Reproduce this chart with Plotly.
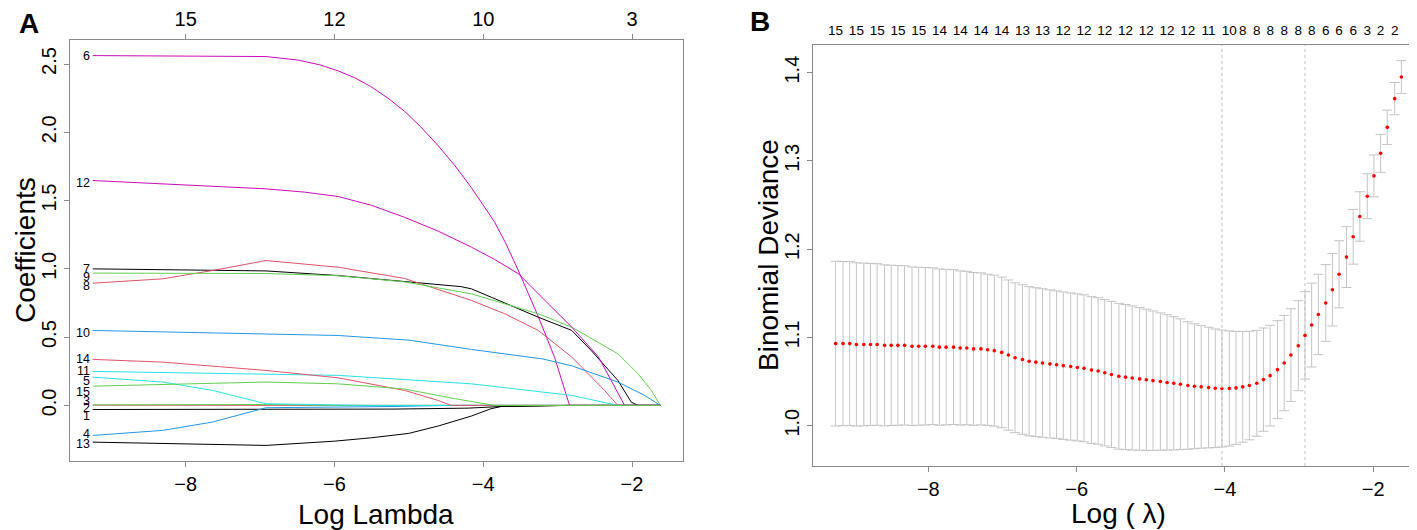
import plotly.graph_objects as go

W, H = 1417, 530
FONT = "Liberation Sans"
NARROW = "Liberation Sans Narrow, Liberation Sans"

# ---- panel B : cross-validation curve ----
log_lambda = [
    -9.25, -9.15, -9.06, -8.97, -8.87, -8.78, -8.69, -8.59, -8.50, -8.41,
    -8.32, -8.22, -8.13, -8.04, -7.94, -7.85, -7.76, -7.66, -7.57, -7.48,
    -7.39, -7.29, -7.20, -7.11, -7.01, -6.92, -6.83, -6.73, -6.64, -6.55,
    -6.46, -6.36, -6.27, -6.18, -6.08, -5.99, -5.90, -5.80, -5.71, -5.62,
    -5.53, -5.43, -5.34, -5.25, -5.15, -5.06, -4.97, -4.87, -4.78, -4.69,
    -4.60, -4.50, -4.41, -4.32, -4.22, -4.13, -4.04, -3.94, -3.85, -3.76,
    -3.67, -3.57, -3.48, -3.39, -3.29, -3.20, -3.11, -3.01, -2.92, -2.83,
    -2.74, -2.64, -2.55, -2.46, -2.36, -2.27, -2.18, -2.08, -1.99, -1.90,
    -1.81, -1.71, -1.62,
]
cv_mean = [
    1.093, 1.093, 1.093, 1.092, 1.092, 1.092, 1.092, 1.091, 1.091, 1.091,
    1.091, 1.090, 1.090, 1.090, 1.090, 1.089, 1.089, 1.089, 1.088, 1.088,
    1.087, 1.087, 1.086, 1.085, 1.083, 1.080, 1.077, 1.075, 1.073, 1.072,
    1.071, 1.070, 1.069, 1.068, 1.067, 1.066, 1.065, 1.063, 1.062, 1.060,
    1.058, 1.056, 1.055, 1.054, 1.053, 1.052, 1.051, 1.050, 1.049, 1.048,
    1.047, 1.0455, 1.0447, 1.044, 1.0432, 1.0424, 1.0421, 1.0421, 1.0428, 1.044,
    1.0455, 1.048, 1.0522, 1.0567, 1.0635, 1.071, 1.080, 1.0906, 1.1023, 1.114,
    1.126, 1.139, 1.154, 1.1715, 1.191, 1.214, 1.237, 1.260, 1.283, 1.3085,
    1.338, 1.3705, 1.395,
]
cv_se = [
    0.0933, 0.0930, 0.0928, 0.0925, 0.0922, 0.0918, 0.0915, 0.0912, 0.0908, 0.0905,
    0.0902, 0.0898, 0.0895, 0.0892, 0.0888, 0.0885, 0.0881, 0.0877, 0.0873, 0.0869,
    0.0865, 0.0861, 0.0857, 0.0855, 0.0853, 0.0851, 0.0849, 0.0847, 0.0845, 0.0843,
    0.0841, 0.0839, 0.0837, 0.0835, 0.0834, 0.0833, 0.0832, 0.0831, 0.0830, 0.0829,
    0.0828, 0.0826, 0.0822, 0.0816, 0.0808, 0.0800, 0.0790, 0.0778, 0.0767, 0.0755,
    0.0740, 0.0722, 0.0708, 0.0695, 0.0683, 0.0672, 0.0662, 0.0652, 0.0640, 0.0628,
    0.0615, 0.0600, 0.0585, 0.0570, 0.0555, 0.0540, 0.0525, 0.0510, 0.0495, 0.0475,
    0.0455, 0.0435, 0.0410, 0.0380, 0.0345, 0.0310, 0.0280, 0.0255, 0.0237, 0.0215,
    0.0195, 0.0183, 0.0186,
]
# number of non-zero coefficients printed along the top (lambda index, count)
top_idx = [0, 3, 6, 9, 12, 15, 18, 21, 24, 27, 30, 33, 36, 39, 42, 45, 48, 51,
           54, 57, 59, 61, 63, 65, 67, 69, 71, 73, 75, 77, 79, 81]
top_nz = [15, 15, 15, 15, 15, 14, 14, 14, 14, 13, 13, 12, 12, 12, 12, 12, 12, 12,
          11, 10, 8, 8, 8, 8, 8, 8, 6, 6, 6, 3, 2, 2]
lambda_min_idx = 56
lambda_1se_idx = 68

# ---- panel A : coefficient paths ----
coef_x_1 = [-9.25, -6.92, -5.20, -4.20, -3.76, -3.30, -2.85, -1.62]
coef_y_1 = [-0.030, -0.029, -0.027, -0.020, -0.008, -0.004, 0.0, 0.0]
coef_x_2 = [-9.25, -6.92, -6.30, -1.62]
coef_y_2 = [0.002, 0.004, 0.0, 0.0]
coef_x_3 = [-9.25, -6.92, -6.00, -1.62]
coef_y_3 = [0.004, 0.007, 0.0, 0.0]
coef_x_4 = [-9.25, -8.31, -7.64, -6.92, -5.20, -4.45, -1.62]
coef_y_4 = [-0.220, -0.183, -0.122, -0.017, -0.008, 0.0, 0.0]
coef_x_5 = [-9.25, -8.31, -7.64, -6.92, -6.00, -5.50, -1.62]
coef_y_5 = [0.207, 0.171, 0.110, 0.012, 0.004, 0.0, 0.0]
coef_x_6 = [-9.25, -6.92, -6.50, -6.20, -5.95, -5.73, -5.51, -5.28, -5.06, -4.84,
            -4.61, -4.38, -4.16, -4.00, -3.85, -3.70, -3.53, -3.26, -3.04, -2.84, -1.62]
coef_y_6 = [2.562, 2.555, 2.530, 2.495, 2.450, 2.400, 2.335, 2.250, 2.155, 2.040,
            1.905, 1.755, 1.595, 1.470, 1.345, 1.190, 0.990, 0.650, 0.350, 0.0, 0.0]
coef_x_7 = [-9.25, -6.92, -5.95, -5.06, -4.30, -4.16, -3.80, -3.26, -2.81, -2.55, -2.19, -2.01, -1.92, -1.62]
coef_y_7 = [1.000, 0.985, 0.951, 0.910, 0.870, 0.854, 0.769, 0.646, 0.549, 0.403, 0.183, 0.024, 0.0, 0.0]
coef_x_8 = [-9.25, -8.31, -7.64, -6.92, -5.95, -5.06, -4.16, -3.71, -3.26, -2.81, -2.37, -2.19, -1.62]
coef_y_8 = [0.895, 0.927, 0.988, 1.061, 1.012, 0.930, 0.769, 0.671, 0.549, 0.354, 0.110, 0.0, 0.0]
coef_x_9 = [-9.25, -6.92, -5.95, -5.06, -4.16, -3.71, -3.26, -2.81, -2.19, -1.92, -1.74, -1.62]
coef_y_9 = [0.969, 0.966, 0.950, 0.905, 0.817, 0.744, 0.671, 0.573, 0.378, 0.232, 0.110, 0.0]
coef_x_10 = [-9.25, -6.92, -5.95, -5.00, -4.16, -3.20, -2.81, -2.19, -1.83, -1.62]
coef_y_10 = [0.549, 0.524, 0.512, 0.478, 0.410, 0.340, 0.290, 0.171, 0.073, 0.0]
coef_x_11 = [-9.25, -6.92, -5.95, -4.16, -2.81, -2.19, -1.62]
coef_y_11 = [0.249, 0.231, 0.220, 0.158, 0.073, 0.0, 0.0]
coef_x_12 = [-9.25, -6.92, -6.40, -5.95, -5.50, -5.06, -4.60, -4.16, -3.85, -3.53,
             -2.81, -2.45, -2.10, -1.62]
coef_y_12 = [1.647, 1.586, 1.562, 1.530, 1.465, 1.378, 1.275, 1.159, 1.070, 0.965,
             0.573, 0.354, 0.0, 0.0]
coef_x_13 = [-9.25, -6.92, -6.00, -5.50, -5.00, -4.60, -4.16, -3.90, -3.76, -3.30, -2.85, -1.62]
coef_y_13 = [-0.269, -0.293, -0.262, -0.237, -0.205, -0.150, -0.078, -0.025, -0.008, -0.004, 0.0, 0.0]
coef_x_14 = [-9.25, -8.31, -6.92, -5.95, -5.06, -4.61, -4.43, -1.62]
coef_y_14 = [0.337, 0.317, 0.256, 0.202, 0.110, 0.037, 0.0, 0.0]
coef_x_15 = [-9.25, -6.92, -5.95, -5.06, -4.38, -3.85, -1.62]
coef_y_15 = [0.141, 0.171, 0.158, 0.120, 0.049, 0.0, 0.0]

paths = [
    (1, coef_x_1, coef_y_1), (2, coef_x_2, coef_y_2), (3, coef_x_3, coef_y_3),
    (4, coef_x_4, coef_y_4), (5, coef_x_5, coef_y_5), (6, coef_x_6, coef_y_6),
    (7, coef_x_7, coef_y_7), (8, coef_x_8, coef_y_8), (9, coef_x_9, coef_y_9),
    (10, coef_x_10, coef_y_10), (11, coef_x_11, coef_y_11), (12, coef_x_12, coef_y_12),
    (13, coef_x_13, coef_y_13), (14, coef_x_14, coef_y_14), (15, coef_x_15, coef_y_15),
]
top_a_vals = [-8, -6, -4, -2]
top_a_text = ["15", "12", "10", "3"]

# R default palette, cycled by matplot
palette = ["#000000", "#DF536B", "#61D04F", "#2297E6", "#28E2E5", "#CD0BBC"]
# little vertical nudges so the crowded variable labels do not sit on each other
label_nudge = {9: -0.03, 8: -0.024, 10: -0.02, 5: -0.03, 15: -0.044, 3: 0.027,
               2: -0.019, 1: -0.05, 4: 0.012, 13: -0.012, 12: -0.017}


def pad(lo, hi, frac=0.04):
    d = (hi - lo) * frac
    return [lo - d, hi + d]


x_range = pad(min(log_lambda), max(log_lambda))
all_coef = [v for _, _, ys in paths for v in ys]
ya_range = pad(min(all_coef), max(all_coef))
yb_range = pad(min(m - s for m, s in zip(cv_mean, cv_se)),
               max(m + s for m, s in zip(cv_mean, cv_se)))

fig = go.Figure()

for k, xs, ys in paths:
    fig.add_trace(go.Scatter(
        x=xs, y=ys, mode="lines", xaxis="x", yaxis="y",
        line=dict(color=palette[(k - 1) % 6], width=1), hoverinfo="skip",
    ))

fig.add_trace(go.Scatter(
    x=log_lambda, y=cv_mean, mode="markers", xaxis="x2", yaxis="y2",
    marker=dict(color="red", size=3.6),
    error_y=dict(type="data", array=cv_se, visible=True, color="#c4c4c4",
                 thickness=1, width=5),
))

# invisible helpers so the top axes get drawn
fig.add_trace(go.Scatter(x=top_a_vals, y=[ya_range[0]] * 4, mode="markers",
                         marker=dict(opacity=0), xaxis="x3", yaxis="y", hoverinfo="skip"))
top_b_vals = [log_lambda[i] for i in top_idx]
fig.add_trace(go.Scatter(x=top_b_vals, y=[yb_range[0]] * len(top_b_vals), mode="markers",
                         marker=dict(opacity=0), xaxis="x4", yaxis="y2", hoverinfo="skip"))

frame = dict(showline=True, linecolor="#8a8a8a", linewidth=1.2, mirror=True,
             ticks="outside", ticklen=5, tickcolor="#8a8a8a", showgrid=False,
             zeroline=False, tickfont=dict(family=FONT, size=20, color="black"))

dom_ax = [62 / W, 675 / W]
dom_ay = [1 - 453 / H, 1 - 32 / H]
dom_bx = [805 / W, 1416 / W]
dom_by = [1 - 458 / H, 1 - 37 / H]

fig.update_layout(
    width=W, height=H,
    margin=dict(l=0, r=0, t=0, b=0),
    paper_bgcolor="white", plot_bgcolor="white",
    showlegend=False,
    font=dict(family=FONT, color="black"),
    xaxis=dict(frame, domain=dom_ax, anchor="y", range=x_range, tickvals=[-8, -6, -4, -2]),
    yaxis=dict(frame, domain=dom_ay, anchor="x", range=ya_range,
               tickvals=[0, 0.5, 1.0, 1.5, 2.0, 2.5], tickformat=".1f", tickangle=-90),
    xaxis2=dict(frame, domain=dom_bx, anchor="y2", range=x_range, tickvals=[-8, -6, -4, -2]),
    yaxis2=dict(frame, domain=dom_by, anchor="x2", range=yb_range,
                tickvals=[1.0, 1.1, 1.2, 1.3, 1.4], tickformat=".1f", tickangle=-90),
    xaxis3=dict(overlaying="x", side="top", anchor="y", range=x_range,
                tickvals=top_a_vals, ticktext=top_a_text, ticks="outside", ticklen=5,
                tickcolor="#8a8a8a", showline=False, showgrid=False, zeroline=False,
                tickfont=dict(family=FONT, size=20, color="black")),
    xaxis4=dict(overlaying="x2", side="top", anchor="y2", range=x_range,
                tickvals=top_b_vals, ticktext=[str(n) for n in top_nz], ticks="",
                tickangle=0, showline=False, showgrid=False, zeroline=False,
                ticklabelstandoff=6,
                tickfont=dict(family=NARROW, size=13.5, color="black")),
)

# lambda.min and lambda.1se
for i in (lambda_min_idx, lambda_1se_idx):
    fig.add_shape(type="line", xref="x2", yref="y2 domain", x0=log_lambda[i], x1=log_lambda[i],
                  y0=0, y1=1, line=dict(color="#c0c0c0", width=1, dash="dot"))

# variable labels at the left end of each path
for k, xs, ys in paths:
    fig.add_annotation(x=xs[0], y=ys[0] + label_nudge.get(k, 0), xref="x", yref="y",
                       text=str(k), showarrow=False, xanchor="right", xshift=-1,
                       font=dict(family=FONT, size=12.5, color="black"))

titles = [
    ("Coefficients", 17, 242, -90),
    ("Log Lambda", 368, 506, 0),
    ("Binomial Deviance", 760, 247, -90),
    ("Log ( \u03bb)", 1110, 505, 0),
]
for text, px, py, ang in titles:
    fig.add_annotation(x=px / W, y=1 - py / H, xref="paper", yref="paper", text=text,
                       showarrow=False, textangle=ang, xanchor="center", yanchor="middle",
                       font=dict(family=FONT, size=28, color="black"))

for text, px, py in [("A", 21, 16), ("B", 752, 14)]:
    fig.add_annotation(x=px / W, y=1 - py / H, xref="paper", yref="paper",
                       text="<b>" + text + "</b>", showarrow=False,
                       xanchor="center", yanchor="middle",
                       font=dict(family=FONT, size=28, color="black"))

fig.write_html("out.html")
